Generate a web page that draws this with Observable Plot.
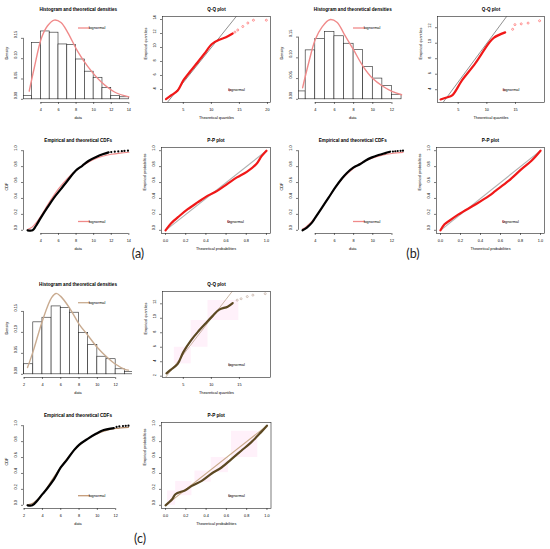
<!DOCTYPE html>
<html><head><meta charset="utf-8">
<script src="https://cdn.jsdelivr.net/npm/d3@7"></script>
<script src="https://cdn.jsdelivr.net/npm/@observablehq/plot@0.6"></script>
<style>
body{margin:0;background:#fff}
#root{position:relative;width:550px;height:549px;overflow:hidden;background:#fff}
.tag{position:absolute;font-family:Lato,"Open Sans",sans-serif;font-size:12.5px;color:#222;transform:translate(-50%,-50%)}
</style></head><body><div id="root"></div>
<script>
// ---------- data ----------
const legendLabel = "lognormal";
const titles = {hist: "Histogram and theoretical densities", qq: "Q-Q plot", cdf: "Empirical and theoretical CDFs", pp: "P-P plot"};
const axisLabels = {data: "data", density: "Density", cdf: "CDF", thq: "Theoretical quantiles", emq: "Empirical quantiles", thp: "Theoretical probabilities", emp: "Empirical probabilities"};

// histogram bins
const histEdgesA = [2,3,4,5,6,7,8,9,10,11,12,13,14];
const histDensA  = [0.008,0.139,0.167,0.164,0.135,0.134,0.098,0.068,0.053,0.028,0.008,0.005];
const histEdgesB = [2,3,4,5,6,7,8,9,10,11,12,13];
const histDensB  = [0.019,0.118,0.145,0.162,0.152,0.134,0.119,0.078,0.050,0.032,0.011];
const histEdgesC = [2,3,4,5,6,7,8,9,10,11,12,13,14];
const histDensC  = [0.024,0.124,0.135,0.162,0.158,0.147,0.099,0.070,0.042,0.036,0.012,0.006];

// theoretical densities
const densAx = [2.67,3.24,4.08,4.76,5.52,6.28,7.04,8.18,9.32,10.84,12.37,14.0];
const densAy = [0.02,0.077,0.152,0.181,0.195,0.189,0.165,0.118,0.081,0.043,0.018,0.006];
const densBx = [2.68,3.3,4.0,4.7,5.5,6.26,7.0,8.0,9.0,10,11,12,13];
const densBy = [0.028,0.087,0.144,0.174,0.192,0.186,0.158,0.119,0.079,0.05,0.032,0.019,0.011];
const densCx = [2.37,3,4,5,5.5,6,7,8,9,10,11,12,13,13.4];
const densCy = [0.016,0.056,0.128,0.183,0.193,0.186,0.157,0.12,0.092,0.064,0.042,0.024,0.012,0.01];

// Q-Q points (dense band + sparse tail)
const qqAx = [1.91,2.8,4.0,5.0,6.37,7.56,8.75,10.1,11.4,12.6,13.8];
const qqAy = [2.61,3.14,3.86,5.29,6.71,7.9,9.1,10.5,11.1,11.47,12.0];
const qqAtx = [14.2,14.7,15.6,16.5,17.5,19.8];
const qqAty = [12.2,12.5,13.0,13.5,13.9,13.9];
const qqBx = [1.92,3.0,3.95,5.66,7.98,10.3,11.2,13.2];
const qqBy = [2.74,3.0,3.26,5.2,7.4,9.97,10.7,11.4];
const qqBtx = [14.5,14.9,16.0,17.2,19.2];
const qqBty = [11.8,12.4,12.5,12.6,12.9];
const qqCx = [2.0,2.8,4.0,5,6.37,7.68,9.05,10.2,11.4,12.9,13.8];
const qqCy = [2.4,2.9,3.7,5.33,6.96,8.2,9.36,10.3,11.2,11.6,12.1];
const qqCtx = [14.6,15.3,16.4,17.4,19.6];
const qqCty = [12.5,12.7,13.0,13.2,13.4];

// empirical CDFs
const ecdfAx = [2.48,3.05,3.43,4.0,4.76,5.5,6.27,7.0,7.95,8.7,9.45,10.4,11.1,11.7];
const ecdfAy = [0,0,0.054,0.16,0.29,0.41,0.517,0.62,0.748,0.81,0.874,0.928,0.958,0.979];
const ecdfAtx = [12.0,12.4,12.8,13.2,13.5,13.9];
const ecdfAty = [0.983,0.987,0.991,0.994,0.997,1.0];
const tcdfAx = [2.48,3,3.5,4,5,6,7,8,9,10,11,12,13,14];
const tcdfAy = [0.01,0.04,0.1,0.18,0.36,0.52,0.65,0.75,0.83,0.89,0.93,0.955,0.97,0.98];
const ecdfBx = [2.67,3.12,3.65,4.0,4.7,5.39,6.09,6.78,7.3,8.0,8.7,9.22,9.92,10.6,11.3,11.8];
const ecdfBy = [0,0.034,0.096,0.16,0.285,0.41,0.538,0.65,0.72,0.79,0.832,0.874,0.916,0.945,0.97,0.987];
const ecdfBtx = [12.1,12.35,12.6,12.9,13.15];
const ecdfBty = [0.99,0.993,0.996,0.998,1];
const tcdfBx = [2.67,3,4,5,6,7,8,9,10,11,12,13.15];
const tcdfBy = [0.015,0.04,0.16,0.34,0.52,0.67,0.78,0.86,0.91,0.945,0.965,0.978];
const ecdfCx = [2.37,2.9,3.45,4.0,4.54,5.27,6.0,6.73,7.45,8.0,8.9,9.8,10.7,11.8];
const ecdfCy = [0,0,0.06,0.14,0.214,0.328,0.475,0.58,0.693,0.76,0.832,0.895,0.945,0.97];
const ecdfCtx = [12.1,12.4,12.8,13.1,13.4];
const ecdfCty = [0.985,0.991,0.995,0.998,1];
const tcdfCx = [2.37,3,4,5,6,7,8,9,10,11,12,13.4];
const tcdfCy = [0.005,0.03,0.14,0.31,0.48,0.63,0.75,0.84,0.9,0.94,0.965,0.98];

// P-P curves
const ppAx = [0,0.056,0.137,0.22,0.317,0.415,0.512,0.61,0.707,0.805,0.9,0.95,1.0];
const ppAy = [0,0.088,0.18,0.265,0.35,0.432,0.495,0.58,0.664,0.735,0.832,0.928,1.0];
const ppBx = [0,0.04,0.072,0.18,0.353,0.485,0.55,0.68,0.81,0.91,1.0];
const ppBy = [0,0.075,0.105,0.2,0.327,0.432,0.495,0.62,0.768,0.874,1.0];
const ppCx = [0,0.065,0.097,0.195,0.26,0.357,0.455,0.552,0.65,0.747,0.844,0.94,1.0];
const ppCy = [0,0.076,0.139,0.19,0.244,0.307,0.4,0.475,0.58,0.685,0.79,0.916,1.0];

// faint pink boxes in panel set (c)
const pinkQQc = [[3.4,6.4,3.7,6.0],[6.4,9.4,6.0,9.7],[9.4,14.9,9.7,12.45]];
const pinkPPc = [[0.02,0.1,0,0.18],[0.1,0.26,0.12,0.3],[0.29,0.45,0.29,0.43],[0.45,0.62,0.41,0.6],[0.65,0.91,0.6,0.93]];

// ticks
const ticksDataA = [4,6,8,10,12,14];
const ticksDataB = [4,6,8,10,12];
const ticksDataC = [2,4,6,8,10,12];
const ticksDens = [0,0.05,0.10,0.15];
const ticksProb = [0,0.2,0.4,0.6,0.8,1];
const ticksQQxA = [5,10,15,20], ticksQQxB = [5,10,15], ticksQQxC = [5,10,15];
const ticksQQyA = [4,6,8,10,12,14], ticksQQyB = [4,6,8,10,12], ticksQQyC = [2,4,6,8,10,12];

const groupTags = ["(a)","(b)","(c)"];

// ---------- drawing ----------
const root = document.getElementById("root");
const FONT = "'Liberation Sans', Arial, sans-serif";
const RED = "#f01818", DENS_RED = "#f08a8a", TAN = "#c9ab90", BROWN = "#5c4822";
const zipXY = (xs, ys) => xs.map((x, i) => ({x, y: ys[i]}));
const fmt = (p) => d3.format("." + p + "f");

function legendMark(kind, color, rx, ry) {
  return (index, scales, values, dims) => {
    const g = d3.create("svg:g");
    const X = dims.marginLeft + rx, Y = dims.marginTop + ry;
    if (kind === "line") {
      g.append("line").attr("x1", X).attr("x2", X + 12).attr("y1", Y).attr("y2", Y)
        .attr("stroke", color).attr("stroke-width", 1.3);
      g.append("text").attr("x", X + 19).attr("y", Y).attr("dy", "0.35em")
        .attr("font-size", 3.8).attr("font-family", FONT).text(legendLabel);
    } else {
      g.append("circle").attr("cx", X).attr("cy", Y).attr("r", 1)
        .attr("fill", "none").attr("stroke", color).attr("stroke-width", 0.6);
      g.append("text").attr("x", X + 7).attr("y", Y).attr("dy", "0.35em")
        .attr("font-size", 3.8).attr("font-family", FONT).text(legendLabel);
    }
    return g.node();
  };
}

function panel(c) {
  const mL = 26, mR = 6, mT = 16, mB = 24, h = 86;
  const w = c.right - c.left;
  const axisLines = c.box
    ? [Plot.frame({stroke: "#222", strokeWidth: 0.6})]
    : [Plot.ruleY([c.yDomain[0]], {x1: c.xTicks[0], x2: c.xTicks[c.xTicks.length - 1], stroke: "#222", strokeWidth: 0.6}),
       Plot.ruleX([c.xDomain[0]], {y1: c.yTicks[0], y2: c.yTicks[c.yTicks.length - 1], stroke: "#222", strokeWidth: 0.6})];
  const chart = Plot.plot({
    width: w + mL + mR, height: h + mT + mB,
    marginLeft: mL, marginRight: mR, marginTop: mT, marginBottom: mB,
    x: {domain: c.xDomain}, y: {domain: c.yDomain},
    style: {fontFamily: FONT, fontSize: "4px", background: "transparent", overflow: "visible"},
    marks: [
      ...c.marks,
      ...axisLines,
      Plot.axisX({ticks: c.xTicks, tickSize: 2, tickPadding: 3.8, fontSize: 3.8, tickFormat: c.xFmt, label: null, strokeWidth: 0.6, stroke: "#222"}),
      Plot.axisY({ticks: c.yTicks, tickSize: 2, tickFormat: () => "", label: null, strokeWidth: 0.6, stroke: "#222"}),
      Plot.text(c.yTicks, {y: d => d, text: c.yFmt, frameAnchor: "left", dx: -7.5, rotate: -90, fontSize: 3.8}),
      Plot.text([c.title], {text: d => d, frameAnchor: "top", dy: -9, fontWeight: "bold", fontSize: 4.6}),
      Plot.text([c.xLabel], {text: d => d, frameAnchor: "bottom", dy: 16.5, fontSize: 3.8}),
      Plot.text([c.yLabel], {text: d => d, frameAnchor: "left", dx: -17, rotate: -90, fontSize: 3.8}),
      c.legend
    ]
  });
  chart.style.position = "absolute";
  chart.style.left = (c.left - mL) + "px";
  chart.style.top = (c.top - mT) + "px";
  root.append(chart);
}

function histMarks(edges, dens, dx, dy, col) {
  const bins = dens.map((v, i) => ({x1: edges[i], x2: edges[i + 1], h: v}));
  return [
    Plot.rect(bins, {x1: "x1", x2: "x2", y1: 0, y2: "h", fill: "white", stroke: "#222", strokeWidth: 0.6, clip: true}),
    Plot.line(zipXY(dx, dy), {x: "x", y: "y", stroke: col, strokeWidth: 1.4, curve: "catmull-rom", clip: true})
  ];
}
function qqMarks(xs, ys, tx, ty, xD, yD, ptCol, lineCol, tailCol) {
  const lo = Math.max(xD[0], yD[0]), hi = Math.min(xD[1], yD[1]);
  return [
    Plot.link([0], {x1: lo, y1: lo, x2: hi, y2: hi, stroke: lineCol, strokeWidth: 0.6, clip: true}),
    Plot.line(zipXY(xs, ys), {x: "x", y: "y", stroke: ptCol, strokeWidth: 2.2, curve: "catmull-rom", strokeLinecap: "round"}),
    Plot.dot(zipXY(tx, ty), {x: "x", y: "y", r: 1.0, stroke: tailCol, strokeWidth: 0.6, fill: "none"})
  ];
}
function cdfMarks(ex, ey, etx, ety, tx, ty, tCol) {
  return [
    Plot.line(zipXY(tx, ty), {x: "x", y: "y", stroke: tCol, strokeWidth: 1.2, curve: "catmull-rom"}),
    Plot.line(zipXY(ex, ey), {x: "x", y: "y", stroke: "#000", strokeWidth: 2.2, curve: "catmull-rom", strokeLinecap: "round"}),
    Plot.dot(zipXY(etx, ety), {x: "x", y: "y", r: 1.1, fill: "#000"})
  ];
}
function ppMarks(xs, ys, ptCol, lineCol) {
  return [
    Plot.link([0], {x1: 0, y1: 0, x2: 1, y2: 1, stroke: lineCol, strokeWidth: 1.1}),
    Plot.line(zipXY(xs, ys), {x: "x", y: "y", stroke: ptCol, strokeWidth: 2.2, curve: "catmull-rom", strokeLinecap: "round"})
  ];
}
const pinkMarks = (boxes) => [Plot.rect(boxes, {x1: d => d[0], x2: d => d[1], y1: d => d[2], y2: d => d[3], fill: "#fff1fa", clip: true})];

const probD = [-0.04, 1.04];
const f2 = fmt(2), f1 = fmt(1), f0 = fmt(0);

const domA = [2.02, 14.46], domB = [2.25, 13.57], domC = [1.93, 13.84];
const qqxA = [1.29, 20.54], qqyA = [2.14, 14.43];
const qqxB = [1.39, 20.06], qqyB = [2.35, 13.45];
const qqxC = [1.29, 20.54], qqyC = [1.82, 13.7];

// ---- group (a)
panel({left: 22.6, right: 132, top: 16, xDomain: domA, yDomain: [-0.0078, 0.2038], xTicks: ticksDataA, yTicks: ticksDens,
  xFmt: f0, yFmt: f2, title: titles.hist, xLabel: axisLabels.data, yLabel: axisLabels.density, box: false,
  marks: histMarks(histEdgesA, histDensA, densAx, densAy, DENS_RED), legend: legendMark("line", DENS_RED, 55, 12)});
panel({left: 161.5, right: 269.5, top: 16, xDomain: qqxA, yDomain: qqyA, xTicks: ticksQQxA, yTicks: ticksQQyA,
  xFmt: f0, yFmt: f0, title: titles.qq, xLabel: axisLabels.thq, yLabel: axisLabels.emq, box: true,
  marks: qqMarks(qqAx, qqAy, qqAtx, qqAty, qqxA, qqyA, RED, "#444", "#ff5050"), legend: legendMark("pt", "#ff6060", 67.5, 74)});
panel({left: 22.6, right: 132, top: 147, xDomain: domA, yDomain: probD, xTicks: ticksDataA, yTicks: ticksProb,
  xFmt: f0, yFmt: f1, title: titles.cdf, xLabel: axisLabels.data, yLabel: axisLabels.cdf, box: false,
  marks: cdfMarks(ecdfAx, ecdfAy, ecdfAtx, ecdfAty, tcdfAx, tcdfAy, DENS_RED), legend: legendMark("line", DENS_RED, 55, 74.5)});
panel({left: 161, right: 270, top: 147, xDomain: probD, yDomain: probD, xTicks: ticksProb, yTicks: ticksProb,
  xFmt: f1, yFmt: f1, title: titles.pp, xLabel: axisLabels.thp, yLabel: axisLabels.emp, box: true,
  marks: ppMarks(ppAx, ppAy, RED, "#b0b0b0"), legend: legendMark("pt", "#ff6060", 67.5, 74.5)});

// ---- group (b)
panel({left: 298, right: 406.5, top: 16, xDomain: domB, yDomain: [-0.0077, 0.1997], xTicks: ticksDataB, yTicks: ticksDens,
  xFmt: f0, yFmt: f2, title: titles.hist, xLabel: axisLabels.data, yLabel: axisLabels.density, box: false,
  marks: histMarks(histEdgesB, histDensB, densBx, densBy, DENS_RED), legend: legendMark("line", DENS_RED, 55, 12)});
panel({left: 437, right: 544, top: 16, xDomain: qqxB, yDomain: qqyB, xTicks: ticksQQxB, yTicks: ticksQQyB,
  xFmt: f0, yFmt: f0, title: titles.qq, xLabel: axisLabels.thq, yLabel: axisLabels.emq, box: true,
  marks: qqMarks(qqBx, qqBy, qqBtx, qqBty, qqxB, qqyB, RED, "#444", "#ff5050"), legend: legendMark("pt", "#ff6060", 67, 74)});
panel({left: 298, right: 406.5, top: 147, xDomain: domB, yDomain: probD, xTicks: ticksDataB, yTicks: ticksProb,
  xFmt: f0, yFmt: f1, title: titles.cdf, xLabel: axisLabels.data, yLabel: axisLabels.cdf, box: false,
  marks: cdfMarks(ecdfBx, ecdfBy, ecdfBtx, ecdfBty, tcdfBx, tcdfBy, DENS_RED), legend: legendMark("line", DENS_RED, 55, 74.5)});
panel({left: 436, right: 544, top: 147, xDomain: probD, yDomain: probD, xTicks: ticksProb, yTicks: ticksProb,
  xFmt: f1, yFmt: f1, title: titles.pp, xLabel: axisLabels.thp, yLabel: axisLabels.emp, box: true,
  marks: ppMarks(ppBx, ppBy, RED, "#b0b0b0"), legend: legendMark("pt", "#ff6060", 67.5, 74.5)});

// ---- group (c)
panel({left: 22.7, right: 131.7, top: 291, xDomain: domC, yDomain: [-0.0076, 0.1976], xTicks: ticksDataC, yTicks: ticksDens,
  xFmt: f0, yFmt: f2, title: titles.hist, xLabel: axisLabels.data, yLabel: axisLabels.density, box: false,
  marks: histMarks(histEdgesC, histDensC, densCx, densCy, TAN), legend: legendMark("line", TAN, 55, 11.7)});
panel({left: 161.5, right: 269.5, top: 291, xDomain: qqxC, yDomain: qqyC, xTicks: ticksQQxC, yTicks: ticksQQyC,
  xFmt: f0, yFmt: f0, title: titles.qq, xLabel: axisLabels.thq, yLabel: axisLabels.emq, box: true,
  marks: [...pinkMarks(pinkQQc), ...qqMarks(qqCx, qqCy, qqCtx, qqCty, qqxC, qqyC, BROWN, "#a8866a", "#b8a090")], legend: legendMark("pt", "#b8a090", 67.5, 74)});
panel({left: 22.7, right: 131.7, top: 422, xDomain: domC, yDomain: probD, xTicks: ticksDataC, yTicks: ticksProb,
  xFmt: f0, yFmt: f1, title: titles.cdf, xLabel: axisLabels.data, yLabel: axisLabels.cdf, box: false,
  marks: cdfMarks(ecdfCx, ecdfCy, ecdfCtx, ecdfCty, tcdfCx, tcdfCy, "#b08a6a"), legend: legendMark("line", "#c49a78", 55, 73.7)});
panel({left: 160.5, right: 270, top: 422, xDomain: probD, yDomain: probD, xTicks: ticksProb, yTicks: ticksProb,
  xFmt: f1, yFmt: f1, title: titles.pp, xLabel: axisLabels.thp, yLabel: axisLabels.emp, box: true,
  marks: [...pinkMarks(pinkPPc), ...ppMarks(ppCx, ppCy, BROWN, "#c8a888")], legend: legendMark("pt", "#b8a090", 68.5, 73.7)});

// ---- group tags
const tagPos = [[138, 253], [413, 253], [140, 538]];
groupTags.forEach((t, i) => {
  const d = document.createElement("div");
  d.className = "tag"; d.textContent = t;
  d.style.left = tagPos[i][0] + "px"; d.style.top = tagPos[i][1] + "px";
  root.append(d);
});
</script></body></html>
